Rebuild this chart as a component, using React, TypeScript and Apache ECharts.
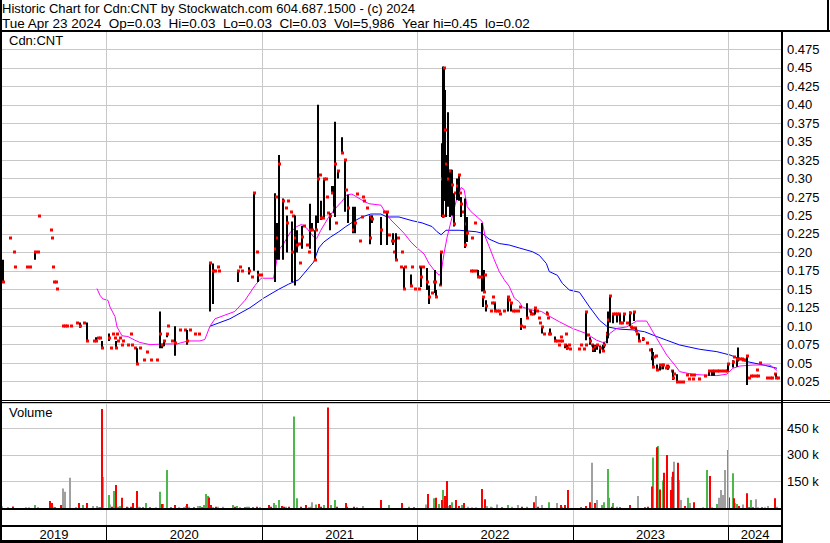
import React, { useEffect, useRef } from "react";
import * as echarts from "echarts";

// ---- axis ranges (decimal years / price / volume) ----
const X_MIN = 2019.328;
const X_MAX = 2024.346;
const yearTicks = [2020, 2021, 2022, 2023, 2024];
const yearLabelPos = [2019.662, 2020.5, 2021.5, 2022.5, 2023.5, 2024.173];
const PRICE_MAX = 0.5;
const PRICE_STEP = 0.025;
const VOL_MAX = 594000;
const VOL_STEP = 150000;

// ---- daily marks: [t, close] or [t, low, high, close] ----
const price2019 = [
  [2019.335, 0.16, 0.19, 0.16], [2019.38, 0.22], [2019.405, 0.2], [2019.412, 0.18],
  [2019.489, 0.18], [2019.508, 0.18], [2019.54, 0.19, 0.2, 0.2], [2019.56, 0.2],
  [2019.566, 0.25], [2019.643, 0.23], [2019.65, 0.22], [2019.656, 0.18],
  [2019.662, 0.16], [2019.675, 0.16], [2019.682, 0.15], [2019.72, 0.1],
  [2019.733, 0.1], [2019.746, 0.1], [2019.772, 0.1], [2019.81, 0.105],
  [2019.83, 0.098, 0.105, 0.1], [2019.855, 0.105], [2019.875, 0.08, 0.105, 0.08],
  [2019.92, 0.08], [2019.933, 0.08, 0.085, 0.08], [2019.945, 0.084], [2019.958, 0.084],
  [2019.971, 0.07, 0.08, 0.07],
];
const price2020 = [
  [2020.016, 0.08, 0.09, 0.084], [2020.029, 0.07], [2020.042, 0.09], [2020.055, 0.084],
  [2020.061, 0.07, 0.08, 0.07], [2020.068, 0.09], [2020.074, 0.08], [2020.087, 0.084],
  [2020.1, 0.075], [2020.106, 0.08], [2020.138, 0.075], [2020.158, 0.09],
  [2020.164, 0.075], [2020.183, 0.07], [2020.196, 0.049, 0.07, 0.049], [2020.215, 0.07],
  [2020.241, 0.054], [2020.26, 0.065], [2020.286, 0.054], [2020.325, 0.054],
  [2020.344, 0.07, 0.12, 0.09], [2020.357, 0.07, 0.075, 0.075], [2020.37, 0.073, 0.08, 0.08],
  [2020.389, 0.085, 0.09, 0.09], [2020.395, 0.1], [2020.421, 0.08],
  [2020.441, 0.06, 0.1, 0.077], [2020.473, 0.095], [2020.505, 0.095],
  [2020.518, 0.075, 0.095, 0.08], [2020.537, 0.095], [2020.569, 0.09], [2020.595, 0.09],
  [2020.666, 0.12, 0.185, 0.185], [2020.685, 0.13, 0.185, 0.175], [2020.698, 0.175],
  [2020.717, 0.18], [2020.723, 0.175], [2020.846, 0.16, 0.175, 0.175], [2020.858, 0.18],
  [2020.871, 0.175], [2020.916, 0.17, 0.18, 0.175], [2020.936, 0.166],
  [2020.948, 0.175, 0.28, 0.28], [2020.968, 0.2], [2020.974, 0.16, 0.175, 0.17],
  [2020.995, 0.17],
];
const price2021 = [
  [2021.082, 0.16, 0.28, 0.205], [2021.088, 0.275], [2021.095, 0.19, 0.24, 0.22],
  [2021.108, 0.19, 0.332, 0.32], [2021.134, 0.19, 0.273, 0.27], [2021.153, 0.26],
  [2021.159, 0.2, 0.25, 0.24], [2021.166, 0.27], [2021.185, 0.255],
  [2021.192, 0.16, 0.242, 0.2], [2021.198, 0.25], [2021.211, 0.155, 0.25, 0.22],
  [2021.224, 0.2, 0.23, 0.21], [2021.237, 0.211], [2021.243, 0.185],
  [2021.256, 0.205, 0.236, 0.221], [2021.269, 0.236], [2021.288, 0.21], [2021.301, 0.2],
  [2021.308, 0.205, 0.266, 0.23], [2021.321, 0.23, 0.24, 0.23], [2021.34, 0.19, 0.23, 0.19],
  [2021.346, 0.23, 0.25, 0.23], [2021.359, 0.24, 0.4, 0.3], [2021.372, 0.305],
  [2021.379, 0.244, 0.27, 0.246], [2021.392, 0.246], [2021.398, 0.248, 0.3, 0.3],
  [2021.411, 0.3], [2021.417, 0.275], [2021.424, 0.253], [2021.437, 0.23, 0.253, 0.25],
  [2021.45, 0.28, 0.29, 0.28], [2021.462, 0.253, 0.29, 0.26], [2021.469, 0.248, 0.377, 0.32],
  [2021.475, 0.24], [2021.488, 0.3, 0.31, 0.31], [2021.514, 0.335, 0.356, 0.335],
  [2021.533, 0.255, 0.325, 0.325], [2021.54, 0.285], [2021.553, 0.24, 0.278, 0.26],
  [2021.585, 0.226, 0.262, 0.23], [2021.598, 0.226, 0.262, 0.24], [2021.611, 0.279],
  [2021.63, 0.215], [2021.643, 0.248], [2021.65, 0.275], [2021.656, 0.27], [2021.675, 0.26],
  [2021.695, 0.211, 0.25, 0.22], [2021.701, 0.248], [2021.708, 0.24, 0.25, 0.245],
  [2021.766, 0.21, 0.248, 0.23], [2021.785, 0.255], [2021.804, 0.21, 0.255, 0.255],
  [2021.817, 0.224], [2021.837, 0.215], [2021.843, 0.21, 0.226, 0.215], [2021.849, 0.2],
  [2021.862, 0.19, 0.226, 0.19], [2021.875, 0.22], [2021.895, 0.18], [2021.901, 0.2],
  [2021.914, 0.149, 0.18, 0.15], [2021.92, 0.18], [2021.959, 0.154, 0.17, 0.154],
  [2021.966, 0.18], [2021.985, 0.15],
];
const price2022 = [
  [2022.011, 0.15], [2022.017, 0.18], [2022.024, 0.153, 0.18, 0.166], [2022.037, 0.18],
  [2022.063, 0.149, 0.179, 0.16], [2022.075, 0.13, 0.155, 0.14], [2022.095, 0.145],
  [2022.108, 0.16], [2022.114, 0.145, 0.176, 0.16], [2022.121, 0.14, 0.149, 0.14],
  [2022.146, 0.156], [2022.153, 0.156, 0.2, 0.2], [2022.159, 0.248, 0.348, 0.3],
  [2022.166, 0.247, 0.452, 0.25], [2022.172, 0.27, 0.45, 0.45], [2022.179, 0.27, 0.42, 0.366],
  [2022.185, 0.248, 0.332, 0.32], [2022.198, 0.262, 0.39, 0.3], [2022.211, 0.248, 0.312, 0.31],
  [2022.224, 0.25, 0.312, 0.291], [2022.237, 0.235, 0.28, 0.239], [2022.243, 0.28],
  [2022.256, 0.271, 0.3, 0.29], [2022.269, 0.27, 0.305, 0.305], [2022.275, 0.281],
  [2022.282, 0.248, 0.275, 0.266], [2022.295, 0.255], [2022.308, 0.206, 0.273, 0.21],
  [2022.314, 0.239], [2022.321, 0.214, 0.248, 0.226], [2022.346, 0.175], [2022.353, 0.22],
  [2022.359, 0.175], [2022.372, 0.24], [2022.379, 0.175], [2022.392, 0.166, 0.176, 0.166],
  [2022.404, 0.166], [2022.417, 0.147, 0.24, 0.166], [2022.424, 0.126, 0.14, 0.14],
  [2022.43, 0.146, 0.176, 0.147], [2022.437, 0.169], [2022.443, 0.12, 0.135, 0.127],
  [2022.475, 0.12], [2022.482, 0.131], [2022.488, 0.14], [2022.495, 0.131],
  [2022.501, 0.12, 0.131, 0.12], [2022.514, 0.12], [2022.527, 0.12], [2022.533, 0.116],
  [2022.559, 0.12], [2022.585, 0.12, 0.141, 0.14], [2022.591, 0.135],
  [2022.604, 0.12, 0.131, 0.131], [2022.617, 0.12], [2022.63, 0.12], [2022.65, 0.12],
  [2022.662, 0.126], [2022.669, 0.095, 0.111, 0.1], [2022.688, 0.099],
  [2022.708, 0.111, 0.131, 0.111], [2022.727, 0.12], [2022.733, 0.116, 0.12, 0.116],
  [2022.746, 0.116], [2022.759, 0.116, 0.125, 0.125], [2022.772, 0.12], [2022.785, 0.111],
  [2022.791, 0.105], [2022.804, 0.09, 0.099, 0.099], [2022.817, 0.09],
  [2022.837, 0.116, 0.12, 0.116], [2022.843, 0.111], [2022.849, 0.09],
  [2022.856, 0.09, 0.097, 0.09], [2022.888, 0.079, 0.086, 0.08], [2022.901, 0.08],
  [2022.914, 0.0745], [2022.92, 0.08], [2022.927, 0.085], [2022.933, 0.08],
  [2022.953, 0.07, 0.0745, 0.0745], [2022.959, 0.09], [2022.966, 0.068, 0.075, 0.07],
  [2022.978, 0.0745], [2022.985, 0.069],
];
const price2023 = [
  [2023.043, 0.069], [2023.056, 0.0745], [2023.069, 0.069], [2023.082, 0.0745],
  [2023.088, 0.081, 0.12, 0.119], [2023.095, 0.088], [2023.108, 0.075, 0.085, 0.08],
  [2023.121, 0.0745], [2023.127, 0.065, 0.075, 0.069], [2023.14, 0.065, 0.075, 0.072],
  [2023.153, 0.068, 0.076, 0.0745], [2023.172, 0.063, 0.074, 0.07],
  [2023.192, 0.066, 0.075, 0.067], [2023.204, 0.07, 0.078, 0.075],
  [2023.217, 0.077, 0.0925, 0.09], [2023.224, 0.0836, 0.12, 0.109],
  [2023.237, 0.105, 0.141, 0.141], [2023.256, 0.104, 0.118, 0.116], [2023.269, 0.116],
  [2023.282, 0.105, 0.118, 0.116], [2023.295, 0.116], [2023.301, 0.105, 0.116, 0.105],
  [2023.314, 0.105], [2023.327, 0.106, 0.118, 0.116], [2023.346, 0.104],
  [2023.366, 0.1, 0.12, 0.118], [2023.372, 0.099], [2023.379, 0.097],
  [2023.392, 0.107, 0.12, 0.119], [2023.398, 0.097], [2023.404, 0.093, 0.097, 0.094],
  [2023.411, 0.09], [2023.424, 0.08, 0.09, 0.08], [2023.45, 0.08, 0.085, 0.082],
  [2023.475, 0.077], [2023.495, 0.0677], [2023.508, 0.054, 0.07, 0.061],
  [2023.514, 0.043, 0.065, 0.045], [2023.521, 0.0587], [2023.533, 0.0596],
  [2023.54, 0.04, 0.048, 0.041], [2023.559, 0.04, 0.047, 0.047], [2023.572, 0.043],
  [2023.579, 0.042, 0.049, 0.047], [2023.598, 0.044], [2023.604, 0.0465],
  [2023.611, 0.041, 0.047, 0.045], [2023.637, 0.0397], [2023.643, 0.027, 0.04, 0.03],
  [2023.65, 0.0348], [2023.669, 0.025, 0.035, 0.025], [2023.688, 0.025], [2023.708, 0.025],
  [2023.733, 0.034], [2023.746, 0.029], [2023.759, 0.034], [2023.772, 0.029],
  [2023.779, 0.034], [2023.811, 0.029], [2023.849, 0.032], [2023.875, 0.033, 0.04, 0.039],
  [2023.895, 0.033, 0.04, 0.039], [2023.908, 0.033, 0.04, 0.039], [2023.927, 0.039],
  [2023.94, 0.039], [2023.959, 0.039], [2023.978, 0.039], [2023.991, 0.039],
];
const price2024 = [
  [2024.0, 0.04, 0.05, 0.049], [2024.03, 0.044, 0.054, 0.052], [2024.037, 0.0587],
  [2024.056, 0.045, 0.055, 0.055], [2024.063, 0.052, 0.071, 0.0556], [2024.075, 0.0556],
  [2024.088, 0.0556], [2024.095, 0.054], [2024.108, 0.054], [2024.121, 0.0203, 0.061, 0.06],
  [2024.134, 0.0302], [2024.146, 0.0325], [2024.159, 0.032], [2024.179, 0.032],
  [2024.185, 0.04], [2024.192, 0.032], [2024.204, 0.0497], [2024.25, 0.03], [2024.269, 0.03],
  [2024.282, 0.03], [2024.301, 0.0348], [2024.308, 0.029, 0.035, 0.03], [2024.321, 0.03],
];

// ---- moving averages [t, value] ----
const maShort = [
  [2019.939, 0.151], [2019.958, 0.142], [2019.977, 0.137], [2020.01, 0.135], [2020.023, 0.126],
  [2020.055, 0.113], [2020.068, 0.099], [2020.1, 0.087], [2020.138, 0.086], [2020.183, 0.081],
  [2020.215, 0.078], [2020.28, 0.075], [2020.376, 0.076], [2020.453, 0.076], [2020.524, 0.08],
  [2020.601, 0.08], [2020.633, 0.082], [2020.666, 0.1], [2020.698, 0.11], [2020.762, 0.115],
  [2020.826, 0.12], [2020.891, 0.135], [2020.955, 0.155], [2020.995, 0.165], [2021.075, 0.165],
  [2021.108, 0.203], [2021.14, 0.212], [2021.185, 0.228], [2021.224, 0.235], [2021.256, 0.238],
  [2021.288, 0.233], [2021.333, 0.221], [2021.353, 0.219], [2021.379, 0.23], [2021.43, 0.248],
  [2021.475, 0.26], [2021.514, 0.269], [2021.546, 0.278], [2021.579, 0.279], [2021.611, 0.275],
  [2021.643, 0.271], [2021.688, 0.266], [2021.766, 0.264], [2021.798, 0.253], [2021.83, 0.244],
  [2021.882, 0.233], [2021.914, 0.226], [2021.959, 0.214], [2021.998, 0.206], [2022.043, 0.198],
  [2022.075, 0.185], [2022.108, 0.176], [2022.14, 0.169], [2022.153, 0.172], [2022.172, 0.199],
  [2022.192, 0.221], [2022.224, 0.248], [2022.256, 0.275], [2022.282, 0.288], [2022.301, 0.285],
  [2022.321, 0.262], [2022.346, 0.255], [2022.385, 0.248], [2022.417, 0.242], [2022.437, 0.221],
  [2022.462, 0.208], [2022.495, 0.19], [2022.527, 0.174], [2022.559, 0.163], [2022.591, 0.154],
  [2022.624, 0.138], [2022.656, 0.133], [2022.675, 0.126], [2022.733, 0.122], [2022.798, 0.12],
  [2022.837, 0.115], [2022.914, 0.106], [2022.998, 0.097], [2023.088, 0.09], [2023.153, 0.081],
  [2023.192, 0.078], [2023.217, 0.079], [2023.237, 0.09], [2023.282, 0.097], [2023.346, 0.099],
  [2023.411, 0.107], [2023.475, 0.107], [2023.508, 0.095], [2023.54, 0.0836], [2023.604, 0.061],
  [2023.656, 0.0474], [2023.688, 0.0384], [2023.772, 0.0348], [2023.837, 0.0339],
  [2023.927, 0.033], [2023.991, 0.035], [2024.03, 0.043], [2024.075, 0.046], [2024.159, 0.0474],
  [2024.269, 0.0474], [2024.314, 0.04],
];
const maLong = [
  [2020.666, 0.1], [2020.794, 0.11], [2020.923, 0.125], [2021.011, 0.138], [2021.108, 0.15],
  [2021.172, 0.157], [2021.237, 0.163], [2021.333, 0.187], [2021.366, 0.206], [2021.398, 0.214],
  [2021.443, 0.221], [2021.495, 0.228], [2021.54, 0.235], [2021.591, 0.242], [2021.643, 0.248],
  [2021.701, 0.252], [2021.766, 0.252], [2021.804, 0.248], [2021.882, 0.248], [2021.966, 0.243],
  [2022.03, 0.24], [2022.095, 0.235], [2022.127, 0.228], [2022.153, 0.224], [2022.185, 0.23],
  [2022.269, 0.23], [2022.379, 0.228], [2022.417, 0.226], [2022.462, 0.218], [2022.527, 0.212],
  [2022.591, 0.21], [2022.656, 0.206], [2022.74, 0.201], [2022.785, 0.196], [2022.83, 0.185],
  [2022.849, 0.174], [2022.901, 0.169], [2022.933, 0.158], [2022.978, 0.149], [2023.043, 0.146],
  [2023.108, 0.126], [2023.172, 0.108], [2023.224, 0.099], [2023.301, 0.096], [2023.385, 0.095],
  [2023.462, 0.0925], [2023.54, 0.086], [2023.604, 0.081], [2023.688, 0.0745], [2023.817, 0.0687],
  [2023.927, 0.0655], [2024.011, 0.061], [2024.121, 0.052], [2024.224, 0.0475], [2024.314, 0.043],
];

// ---- volume [t, shares] ----
const volUp = [
  [2019.367, 4000], [2019.54, 17000], [2019.56, 4000], [2019.804, 4000], [2019.849, 17000],
  [2019.945, 4000], [2020.016, 74000], [2020.048, 96000], [2020.074, 7000], [2020.087, 11000],
  [2020.215, 4000], [2020.254, 28000], [2020.344, 92000], [2020.363, 23000], [2020.389, 215000],
  [2020.466, 4000], [2020.498, 4000], [2020.601, 11000], [2020.627, 17000], [2020.64, 79000],
  [2020.653, 68000], [2020.685, 4000], [2020.813, 17000], [2020.839, 11000], [2020.858, 4000],
  [2020.903, 7000], [2020.916, 7000], [2020.987, 4000], [2021.075, 28000], [2021.108, 45000],
  [2021.204, 517000], [2021.224, 55000], [2021.301, 4000], [2021.314, 7000], [2021.346, 20000],
  [2021.398, 17000], [2021.443, 17000], [2021.469, 45000], [2021.611, 4000], [2021.817, 17000],
  [2021.946, 7000], [2022.108, 55000], [2022.14, 23000], [2022.166, 102000], [2022.224, 32000],
  [2022.288, 17000], [2022.475, 7000], [2022.585, 17000], [2022.708, 7000], [2022.849, 32000],
  [2023.185, 17000], [2023.198, 32000], [2023.224, 221000], [2023.23, 58000], [2023.256, 28000],
  [2023.514, 285000], [2023.546, 351000], [2023.579, 155000], [2023.637, 177000],
  [2023.74, 58000], [2023.862, 215000], [2023.895, 4000], [2023.927, 23000], [2023.998, 328000],
  [2024.03, 196000], [2024.056, 23000], [2024.146, 45000],
];
const volDown = [
  [2019.399, 8000], [2019.637, 40000], [2019.65, 28000], [2019.669, 4000], [2019.707, 17000],
  [2019.823, 28000], [2019.875, 28000], [2019.958, 4000], [2019.971, 560000], [2020.035, 7000],
  [2020.061, 130000], [2020.1, 58000], [2020.132, 7000], [2020.158, 7000], [2020.17, 28000],
  [2020.196, 96000], [2020.235, 4000], [2020.28, 4000], [2020.357, 23000], [2020.415, 4000],
  [2020.441, 17000], [2020.518, 23000], [2020.563, 4000], [2020.614, 4000], [2020.659, 60000],
  [2020.672, 17000], [2020.704, 7000], [2020.826, 7000], [2020.891, 4000], [2020.942, 4000],
  [2020.968, 7000], [2021.043, 17000], [2021.056, 7000], [2021.127, 11000], [2021.14, 7000],
  [2021.172, 7000], [2021.25, 7000], [2021.282, 17000], [2021.366, 23000], [2021.379, 7000],
  [2021.424, 568000], [2021.482, 7000], [2021.54, 28000], [2021.546, 7000], [2021.591, 7000],
  [2021.766, 45000], [2021.901, 28000], [2021.978, 4000], [2022.069, 79000], [2022.121, 58000],
  [2022.159, 45000], [2022.179, 68000], [2022.192, 153000], [2022.211, 17000], [2022.25, 45000],
  [2022.269, 11000], [2022.301, 28000], [2022.417, 107000], [2022.437, 49000], [2022.546, 4000],
  [2022.675, 7000], [2022.753, 32000], [2022.779, 7000], [2022.927, 17000], [2022.953, 17000],
  [2022.972, 102000], [2023.056, 4000], [2023.082, 11000], [2023.108, 32000], [2023.14, 28000],
  [2023.25, 7000], [2023.301, 4000], [2023.366, 17000], [2023.462, 4000], [2023.482, 7000],
  [2023.508, 121000], [2023.54, 343000], [2023.559, 104000], [2023.585, 200000],
  [2023.604, 300000], [2023.63, 102000], [2023.643, 205000], [2023.675, 256000],
  [2023.72, 11000], [2023.779, 32000], [2023.882, 181000], [2024.005, 60000], [2024.037, 55000],
  [2024.069, 11000], [2024.121, 83000], [2024.134, 4000], [2024.159, 4000], [2024.217, 4000],
  [2024.301, 55000],
];
const volFlat = [
  [2019.33, 10000], [2019.482, 4000], [2019.502, 4000], [2019.656, 7000], [2019.72, 111000],
  [2019.733, 92000], [2019.765, 171000], [2019.913, 12000], [2019.939, 11000], [2019.977, 175000],
  [2020.023, 20000], [2020.138, 4000], [2020.209, 7000], [2020.318, 4000], [2020.511, 11000],
  [2020.53, 7000], [2020.588, 11000], [2020.717, 7000], [2020.749, 7000], [2021.088, 17000],
  [2021.153, 7000], [2021.321, 32000], [2021.65, 11000], [2022.056, 20000], [2022.198, 11000],
  [2022.327, 7000], [2022.353, 4000], [2022.379, 4000], [2022.45, 11000], [2022.482, 4000],
  [2022.514, 20000], [2022.611, 7000], [2022.65, 17000], [2022.766, 68000], [2022.804, 17000],
  [2022.901, 28000], [2022.933, 7000], [2023.121, 256000], [2023.153, 45000], [2023.282, 7000],
  [2023.417, 68000], [2023.553, 45000], [2023.65, 262000], [2023.682, 158000], [2023.695, 45000],
  [2023.753, 28000], [2023.837, 4000], [2023.94, 58000], [2023.953, 102000], [2023.966, 74000],
  [2023.978, 215000], [2024.043, 28000], [2024.095, 20000], [2024.179, 49000], [2024.192, 4000],
  [2024.237, 4000], [2024.256, 11000], [2024.314, 7000],
];

const TITLE_1 = "Historic Chart for Cdn:CNT by Stockwatch.com 604.687.1500 - (c) 2024";
const TITLE_2 =
  "Tue Apr 23 2024\u00a0\u00a0Op=0.03\u00a0\u00a0Hi=0.03\u00a0\u00a0Lo=0.03\u00a0\u00a0Cl=0.03\u00a0\u00a0Vol=5,986\u00a0\u00a0Year hi=0.45\u00a0\u00a0lo=0.02";

const FONT = '"Liberation Sans", Arial, sans-serif';
const GRID_COLOR = "#c8c8c8";

function buildOption() {
  const prices = [...price2019, ...price2020, ...price2021, ...price2022, ...price2023, ...price2024].map(
    (d) => (d.length === 2 ? [d[0], d[1], d[1], d[1]] : d)
  );

  const hiddenX = (i: number) => ({
    type: "value",
    gridIndex: i,
    min: X_MIN,
    max: X_MAX,
    axisLine: { show: false },
    axisTick: { show: false },
    axisLabel: { show: false },
    splitLine: { show: false },
  });

  const yearLines = (xi: number, yi: number) => ({
    type: "line",
    xAxisIndex: xi,
    yAxisIndex: yi,
    data: [[2019.5, -1]],
    symbol: "none",
    lineStyle: { opacity: 0 },
    silent: true,
    z: 1,
    markLine: {
      silent: true,
      symbol: ["none", "none"],
      label: { show: false },
      lineStyle: { color: GRID_COLOR, type: "solid", width: 1 },
      emphasis: { disabled: true },
      data: yearTicks.map((v) => ({ xAxis: v })),
    },
  });

  const volSeries = (data: number[][], color: string) => ({
    type: "custom",
    xAxisIndex: 1,
    yAxisIndex: 1,
    data,
    z: 4,
    encode: { x: 0, y: 1 },
    renderItem: (params: any, api: any) => {
      const t = api.value(0);
      const v = api.value(1);
      const p0 = api.coord([t, 0]);
      const p1 = api.coord([t, v]);
      return {
        type: "rect",
        shape: { x: Math.round(p0[0]) - 1, y: p1[1], width: 2, height: p0[1] - p1[1] },
        style: { fill: color },
      };
    },
  });

  const option: any = {
    animation: false,
    backgroundColor: "#ffffff",
    grid: [
      { left: 2, top: 31, width: 780, height: 369 },
      { left: 2, top: 403, width: 780, height: 105 },
      { left: 2, top: 510, width: 780, height: 16 },
    ],
    xAxis: [
      hiddenX(0),
      hiddenX(1),
      {
        ...hiddenX(2),
        position: "bottom",
        axisTick: {
          show: true,
          customValues: yearTicks,
          length: 16,
          inside: false,
          lineStyle: { color: "#000", width: 1 },
        },
        axisLabel: {
          show: true,
          customValues: yearLabelPos,
          formatter: (v: number) => String(Math.floor(v)),
          color: "#000",
          fontSize: 13,
          fontFamily: FONT,
          margin: 2,
        },
      },
    ],
    yAxis: [
      {
        type: "value",
        gridIndex: 0,
        position: "right",
        min: 0,
        max: PRICE_MAX,
        interval: PRICE_STEP,
        axisLine: { show: false },
        axisTick: { show: false },
        axisLabel: {
          color: "#000",
          fontSize: 13,
          fontFamily: FONT,
          margin: 5,
          formatter: (v: number) => {
            if (v < 0.001 || v > PRICE_MAX - 0.001) return "";
            const s = v.toFixed(3);
            return s.endsWith("0") ? v.toFixed(2) : s;
          },
        },
        splitLine: { show: true, lineStyle: { color: GRID_COLOR, width: 1 } },
      },
      {
        type: "value",
        gridIndex: 1,
        position: "right",
        min: 0,
        max: VOL_MAX,
        interval: VOL_STEP,
        axisLine: { show: false },
        axisTick: { show: false },
        axisLabel: {
          color: "#000",
          fontSize: 13,
          fontFamily: FONT,
          margin: 5,
          formatter: (v: number) =>
            v > 0 && v < VOL_MAX - 1 && Math.abs(v % VOL_STEP) < 1 ? v / 1000 + " k" : "",
        },
        splitLine: { show: true, lineStyle: { color: GRID_COLOR, width: 1 } },
      },
      { type: "value", gridIndex: 2, min: 0, max: 1, show: false },
    ],
    series: [
      yearLines(0, 0),
      yearLines(1, 1),
      yearLines(2, 2),
      {
        type: "line",
        name: "MA long",
        xAxisIndex: 0,
        yAxisIndex: 0,
        data: maLong,
        symbol: "none",
        lineStyle: { color: "#0000ff", width: 1 },
        z: 2,
        silent: true,
      },
      {
        type: "line",
        name: "MA short",
        xAxisIndex: 0,
        yAxisIndex: 0,
        data: maShort,
        symbol: "none",
        lineStyle: { color: "#ff00ff", width: 1 },
        z: 2,
        silent: true,
      },
      {
        type: "custom",
        name: "Price",
        xAxisIndex: 0,
        yAxisIndex: 0,
        data: prices,
        z: 5,
        encode: { x: 0, y: [1, 2, 3] },
        renderItem: (params: any, api: any) => {
          const t = api.value(0);
          const lo = api.value(1);
          const hi = api.value(2);
          const cl = api.value(3);
          const pLo = api.coord([t, lo]);
          const pHi = api.coord([t, hi]);
          const pC = api.coord([t, cl]);
          const x = Math.round(pLo[0]);
          const children: any[] = [];
          if (hi - lo > 0.0005) {
            children.push({
              type: "rect",
              shape: { x: x - 1, y: pHi[1], width: 2, height: pLo[1] - pHi[1] },
              style: { fill: "#000" },
            });
          }
          children.push({
            type: "rect",
            shape: { x: x - 1, y: Math.round(pC[1]) - 1.5, width: 3, height: 3 },
            style: { fill: "#ff0000" },
          });
          return { type: "group", children };
        },
      },
      volSeries(volFlat, "#a0a0a0"),
      volSeries(volUp, "#4cb84c"),
      volSeries(volDown, "#ff0000"),
    ],
    graphic: [
      { type: "text", left: 2, top: 2, silent: true, style: { text: TITLE_1, fill: "#000", font: `13px ${FONT}` } },
      { type: "text", left: 2, top: 16, silent: true, style: { text: TITLE_2, fill: "#000", font: `13.5px ${FONT}` } },
      { type: "text", left: 9, top: 34, silent: true, style: { text: "Cdn:CNT", fill: "#000", font: `13px ${FONT}` } },
      { type: "text", left: 9, top: 406, silent: true, style: { text: "Volume", fill: "#000", font: `13px ${FONT}` } },
      { type: "rect", left: 0, top: 0, silent: true, z: 100, shape: { width: 2, height: 543 }, style: { fill: "#000" } },
      { type: "rect", left: 0, top: 30, silent: true, z: 100, shape: { width: 830, height: 2 }, style: { fill: "#000" } },
      { type: "rect", left: 827, top: 0, silent: true, z: 100, shape: { width: 2, height: 31 }, style: { fill: "#000" } },
      { type: "rect", left: 781, top: 31, silent: true, z: 100, shape: { width: 2, height: 512 }, style: { fill: "#000" } },
      { type: "rect", left: 0, top: 400, silent: true, z: 100, shape: { width: 830, height: 1 }, style: { fill: "#000" } },
      { type: "rect", left: 0, top: 402, silent: true, z: 100, shape: { width: 830, height: 1 }, style: { fill: "#000" } },
      { type: "rect", left: 0, top: 508, silent: true, z: 100, shape: { width: 782, height: 2 }, style: { fill: "#000" } },
      { type: "rect", left: 0, top: 525, silent: true, z: 100, shape: { width: 782, height: 2 }, style: { fill: "#000" } },
      { type: "rect", left: 0, top: 540, silent: true, z: 100, shape: { width: 782, height: 3 }, style: { fill: "#000" } },
    ],
  };
  return option;
}

export default function App() {
  const ref = useRef<HTMLDivElement>(null);
  useEffect(() => {
    document.body.style.margin = "0";
    if (!ref.current) return;
    const chart = echarts.init(ref.current, undefined, { renderer: "svg" });
    chart.setOption(buildOption());
    return () => chart.dispose();
  }, []);
  return <div ref={ref} style={{ width: 830, height: 543 }} />;
}
